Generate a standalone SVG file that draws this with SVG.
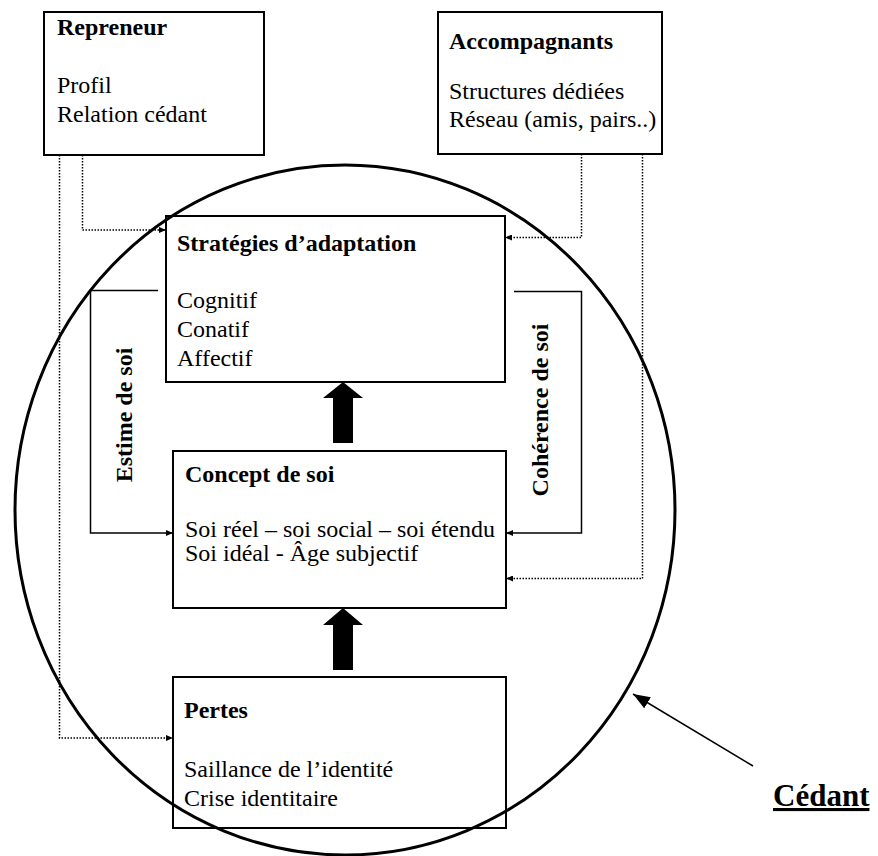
<svg xmlns="http://www.w3.org/2000/svg" width="878" height="856" viewBox="0 0 878 856">
<style>
text{font-family:"Liberation Serif","Times New Roman",serif;font-size:24px;fill:#000}
.b{font-weight:bold}
.box{fill:#fff;stroke:#000;stroke-width:2}
.dot{fill:none;stroke:#000;stroke-width:1.5;stroke-dasharray:1.5 1.5}
.sol{fill:none;stroke:#000;stroke-width:1.5}
.big{fill:#000;stroke:none}
</style>
<defs>
<marker id="ah" markerUnits="userSpaceOnUse" markerWidth="7" markerHeight="6" refX="7" refY="3" orient="auto">
<path d="M0,0 L7,3 L0,6 z" fill="#000"/>
</marker>
<marker id="ahL" markerUnits="userSpaceOnUse" markerWidth="17" markerHeight="13" refX="17" refY="6.5" orient="auto">
<path d="M0,0 L17,6.5 L0,13 z" fill="#000"/>
</marker>
</defs>
<rect width="878" height="856" fill="#fff"/>

<g id="repreneur">
<rect class="box" x="44" y="12" width="220" height="143"/>
<text class="b" x="57" y="35">Repreneur</text>
<text x="57" y="93">Profil</text>
<text x="57" y="122">Relation cédant</text>
</g>

<g id="accompagnants">
<rect class="box" x="438" y="12" width="224" height="142"/>
<text class="b" x="449" y="49">Accompagnants</text>
<text x="449" y="99">Structures dédiées</text>
<text x="449" y="127">Réseau (amis, pairs..)</text>
</g>

<g id="strategies">
<rect class="box" x="166" y="216" width="339" height="166"/>
<text class="b" x="177" y="251">Stratégies d’adaptation</text>
<text x="177" y="308">Cognitif</text>
<text x="177" y="337">Conatif</text>
<text x="177" y="366">Affectif</text>
</g>

<g id="concept">
<rect class="box" x="173" y="451" width="333" height="157"/>
<text class="b" x="185" y="482">Concept de soi</text>
<text x="185" y="537">Soi réel – soi social – soi étendu</text>
<text x="185" y="561">Soi idéal - Âge subjectif</text>
</g>

<g id="pertes">
<rect class="box" x="173" y="677" width="333" height="151"/>
<text class="b" x="184" y="718">Pertes</text>
<text x="184" y="777">Saillance de l’identité</text>
<text x="184" y="806">Crise identitaire</text>
</g>

<g id="cedant">
<ellipse cx="345" cy="510" rx="330" ry="345" fill="none" stroke="#000" stroke-width="3"/>
<text class="b" x="773" y="806" style="font-size:31px;text-decoration:underline">Cédant</text>
</g>

<g id="connectors">
<path class="dot" d="M82.5,155 V230 H166" marker-end="url(#ah)"/>
<path class="dot" d="M59.5,155 V738 H173" marker-end="url(#ah)"/>
<path class="dot" d="M581.5,154 V237.5 H505" marker-end="url(#ah)"/>
<path class="dot" d="M642.5,154 V578.5 H506" marker-end="url(#ah)"/>
<path class="sol" d="M158,290.5 H90.5 V533 H173" marker-end="url(#ah)"/>
<path class="sol" d="M514,291.5 H581.5 V533 H506" marker-end="url(#ah)"/>
<polygon class="big" points="343,382 363,398 353,398 353,443 333,443 333,398 323,398"/>
<polygon class="big" points="343,608 363,625 353,625 353,670 333,670 333,625 323,625"/>
<line class="sol" x1="753" y1="766" x2="633" y2="694" marker-end="url(#ahL)"/>
<text class="b" transform="translate(131.5,415) rotate(-90)" text-anchor="middle">Estime de soi</text>
<text class="b" transform="translate(548,410) rotate(-90)" text-anchor="middle">Cohérence de soi</text>
</g>
</svg>
